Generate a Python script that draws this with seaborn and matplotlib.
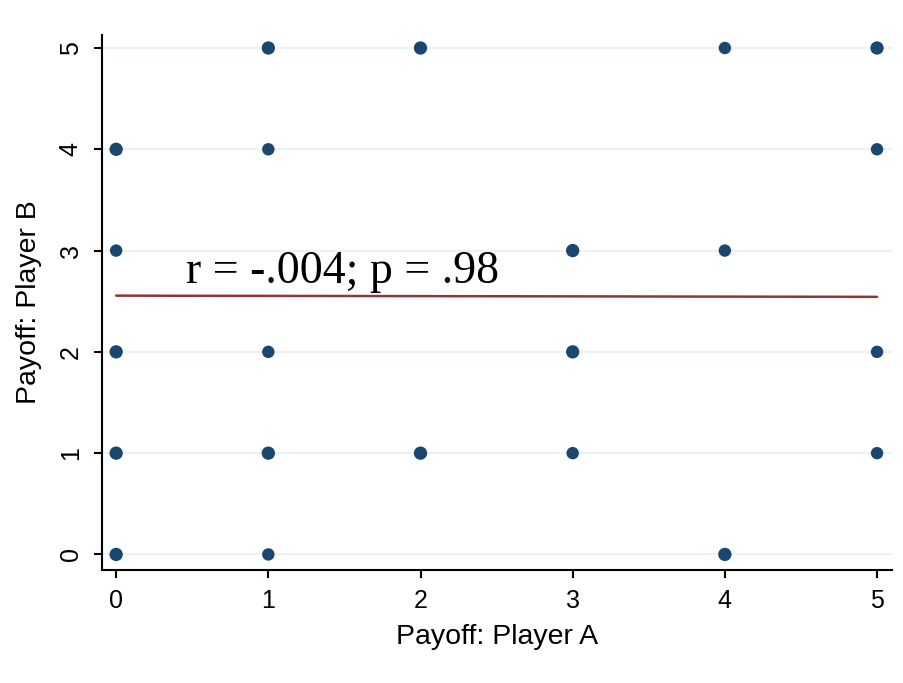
import pandas as pd
import matplotlib
matplotlib.use("Agg")
import matplotlib.pyplot as plt
import seaborn as sns

# Payoff pairs (Player A, Player B); n_obs marks pairs that show several overlapping dots
payoff_a = [1, 2, 4, 5, 0, 1, 5, 0, 3, 4, 0, 1, 3, 5, 0, 1, 2, 3, 5, 0, 1, 4]
payoff_b = [5, 5, 5, 5, 4, 4, 4, 3, 3, 3, 2, 2, 2, 2, 1, 1, 1, 1, 1, 0, 0, 0]
n_obs = [2, 2, 1, 2, 2, 1, 1, 1, 2, 1, 2, 1, 2, 1, 2, 2, 2, 1, 1, 2, 1, 2]

# Linear fit line
fit_x = [0, 5]
fit_y = [2.555, 2.543]

fit_label = "r = -.004; p = .98"

sns.set_style("white")
plt.rcParams['font.family'] = ['Liberation Sans', 'DejaVu Sans']

df = pd.DataFrame({"a": payoff_a, "b": payoff_b, "n": n_obs})
fit = pd.DataFrame({"x": fit_x, "y": fit_y})

fig, ax = plt.subplots(figsize=(9.04, 6.83), dpi=100)
fig.subplots_adjust(left=0.113, right=0.987, top=0.949, bottom=0.166)

ax.grid(axis="y", color="#eaf2f3", linewidth=1.5)
ax.set_axisbelow(True)

sns.lineplot(data=fit, x="x", y="y", color="#90353b", linewidth=1.8, ax=ax, zorder=2)
sns.scatterplot(data=df, x="a", y="b", size="n", sizes=(80, 92), color="#1a476f",
                edgecolor="none", legend=False, ax=ax, zorder=3)

ax.text(0.46, 2.68, fit_label, family="Liberation Serif", fontsize=33, color="black")

ax.set_xlim(-0.092, 5.1)
ax.set_ylim(-0.15, 5.13)
ax.set_xticks(range(6))
ax.set_yticks(range(6))
ax.tick_params(axis="both", bottom=True, left=True, labelsize=18, length=6, width=1.5,
               color="black", labelcolor="black", direction="out", pad=8)
plt.setp(ax.get_yticklabels(), rotation=90, va="center")

for side in ["top", "right"]:
    ax.spines[side].set_visible(False)
for side in ["left", "bottom"]:
    ax.spines[side].set_color("black")
    ax.spines[side].set_linewidth(1.5)

ax.set_xlabel("Payoff: Player A", fontsize=20.5, labelpad=8, color="black")
ax.set_ylabel("Payoff: Player B", fontsize=20.5, labelpad=12, color="black")

plt.savefig("out.png", dpi=100)
